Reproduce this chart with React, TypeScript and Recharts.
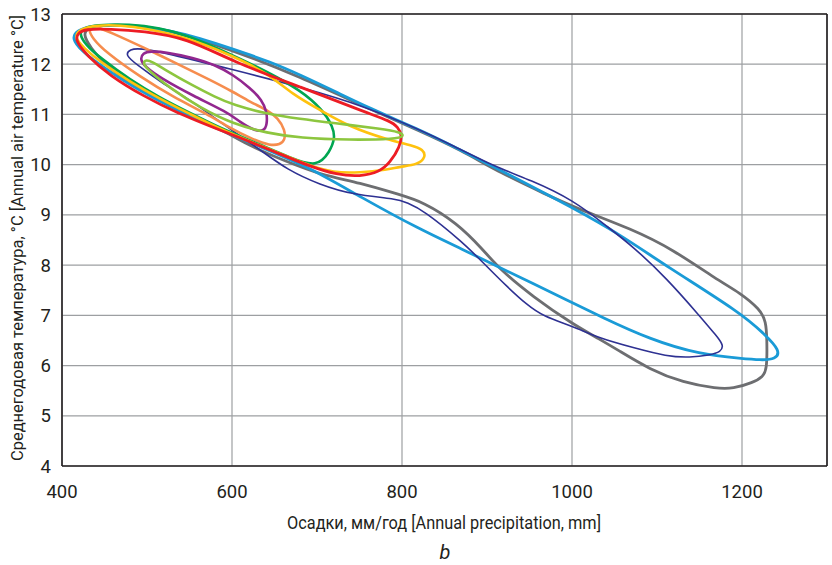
import React from "react";
import { LineChart, Line, XAxis, YAxis, CartesianGrid, ReferenceLine, Label } from "recharts";

// Axis ticks
const precipTicks = [400, 600, 800, 1000, 1200];
const tempTicks = [4, 5, 6, 7, 8, 9, 10, 11, 12, 13];

// Loops: [annual precipitation (mm), annual air temperature (°C)]
const grayLoop = [
  [424.7, 12.6], [430.6, 12.72], [444.7, 12.78], [480, 12.78], [523.5, 12.7], [601.2, 12.28], [680, 11.75],
  [758.8, 11.13], [821, 10.67], [868.2, 10.3], [915.3, 9.84], [970.6, 9.4], [1001, 9.16], [1071.8, 8.71],
  [1118.8, 8.31], [1170.6, 7.71], [1197.6, 7.45], [1221.2, 7.12], [1228.2, 6.88], [1229.4, 6.52],
  [1229.4, 5.92], [1224.7, 5.78], [1212.9, 5.66], [1189.4, 5.54], [1170.6, 5.54], [1130.6, 5.66],
  [1091.8, 5.92], [1052.9, 6.32], [1033, 6.52], [1001.2, 6.82], [954, 7.37], [915.3, 7.91], [895.3, 8.31],
  [864.7, 8.84], [824.7, 9.26], [797.6, 9.4], [750.6, 9.64], [703.5, 9.8], [664.7, 10.06], [621.2, 10.36],
  [570.6, 10.87], [530.6, 11.15], [491.8, 11.49], [452.9, 11.95], [432.9, 12.34],
];
const blueLoop = [
  [410.5, 12.52], [418.8, 12.68], [432.9, 12.76], [456.5, 12.78], [491.8, 12.76], [523.5, 12.68], [562.4, 12.52],
  [601.2, 12.3], [644.7, 12.05], [680, 11.79], [727, 11.41], [758.8, 11.15], [821, 10.69], [856.5, 10.4],
  [930.6, 9.76], [1001, 9.14], [1056.5, 8.61], [1111.8, 7.97], [1197.6, 7.06], [1227, 6.62], [1245, 6.3],
  [1240, 6.12], [1221, 6.11], [1201, 6.14], [1150.6, 6.22], [1091.8, 6.52], [1033, 6.98], [1001, 7.25],
  [915, 7.95], [871.8, 8.31], [821, 8.71], [750.6, 9.36], [691.8, 9.94], [633, 10.36], [577.6, 10.75],
  [542.4, 11.03], [507, 11.33], [471.8, 11.67], [441.2, 12.03], [424.7, 12.24],
];
const navyLoop = [
  [474.1, 12.18], [480, 12.3], [491.8, 12.32], [523.5, 12.22], [601.2, 11.89], [680, 11.55], [758.8, 11.15],
  [821, 10.69], [852.9, 10.44], [911.8, 9.94], [950.6, 9.7], [1001.2, 9.3], [1041.2, 8.77], [1071.8, 8.37],
  [1111.8, 7.73], [1150.6, 6.98], [1170.6, 6.58], [1178.5, 6.4], [1175, 6.27], [1162.4, 6.21], [1138.8, 6.16],
  [1111.8, 6.18], [1071.8, 6.36], [1033, 6.54], [1001.2, 6.78], [965.9, 6.98], [947, 7.21], [923.5, 7.57],
  [895.3, 8.05], [871.8, 8.45], [824.7, 9.1], [805.9, 9.24], [794.1, 9.32], [742.4, 9.4], [703.5, 9.6],
  [664.7, 9.9], [632.9, 10.3], [585.9, 10.85], [554.1, 11.25], [515.3, 11.65], [488.2, 11.99],
];
const orangeLoop = [
  [430.6, 12.72], [438.8, 12.76], [456.5, 12.64], [495.3, 12.34], [535.3, 12.01], [574.1, 11.69], [601.2, 11.45],
  [621.2, 11.25], [641.2, 11.09], [654.1, 10.93], [662.4, 10.69], [662.4, 10.49], [656.5, 10.4], [644.7, 10.38],
  [624.7, 10.5], [597.6, 10.73], [570.6, 11.01], [530.6, 11.35], [491.8, 11.75], [452.9, 12.22], [435.3, 12.52],
];
const greenLoop = [
  [420, 12.62], [425.9, 12.72], [438.8, 12.78], [480, 12.8], [515.3, 12.72], [547.1, 12.58], [601.2, 12.18],
  [641.2, 11.85], [680, 11.49], [707, 11.09], [718.8, 10.75], [721.2, 10.53], [715.3, 10.26], [700, 9.94],
  [668.2, 10.14], [632.9, 10.4], [585.9, 10.73], [550.6, 11.03], [515.3, 11.33], [480, 11.69], [444.7, 12.13],
  [427, 12.4],
];
const yellowLoop = [
  [414.1, 12.54], [421.2, 12.7], [438.8, 12.78], [480, 12.78], [547.1, 12.54], [601.2, 12.16], [641.2, 11.83],
  [671.8, 11.39], [703.5, 11.09], [738.8, 10.75], [782.4, 10.5], [812.9, 10.38], [824.7, 10.3], [828.2, 10.16],
  [818.8, 10.0], [797.6, 9.96], [782.4, 9.9], [750.6, 9.84], [718.8, 9.84], [691.8, 9.98], [668.2, 10.14],
  [632.9, 10.38], [585.9, 10.71], [550.6, 11.01], [515.3, 11.31], [480, 11.65], [444.7, 12.05], [425.9, 12.32],
];
const redLoop = [
  [415.3, 12.48], [418.8, 12.62], [427, 12.7], [456.5, 12.7], [495.3, 12.66], [547.1, 12.52], [601.2, 12.05],
  [680, 11.55], [758.8, 11.03], [785.9, 10.87], [795.3, 10.75], [800, 10.59], [797.6, 10.36], [785.9, 10.04],
  [774.1, 9.86], [750.6, 9.76], [723.5, 9.8], [691.8, 9.96], [644.7, 10.3], [585.9, 10.69], [535.3, 11.03],
  [495.3, 11.37], [456.5, 11.77], [429.4, 12.17],
];
const purpleLoop = [
  [491.8, 12.1], [495.3, 12.22], [503.5, 12.26], [523.5, 12.24], [554.1, 12.13], [580, 11.99], [601.2, 11.79],
  [621.2, 11.53], [635.3, 11.29], [641.2, 11.05], [641.2, 10.79], [637.6, 10.67], [627, 10.67], [609.4, 10.85],
  [594.1, 11.05], [554.1, 11.37], [515.3, 11.73], [497.6, 11.95],
];
const limeLoop = [
  [495.3, 12.03], [498.8, 12.09], [505.9, 12.05], [521.2, 11.89], [554.1, 11.57], [580, 11.35], [601.2, 11.19],
  [641.2, 11.01], [680, 10.91], [718.8, 10.83], [777.6, 10.71], [797.6, 10.65], [803, 10.57], [792.9, 10.51],
  [738.8, 10.49], [680, 10.53], [641.2, 10.63], [601.2, 10.81], [562.4, 11.13], [527, 11.53], [509.4, 11.77],
  [498.8, 11.93],
];

const series = [
  { name: "gray", color: "#6d6e71", width: 2.8, pts: grayLoop },
  { name: "blue", color: "#1a9bd7", width: 2.8, pts: blueLoop },
  { name: "navy", color: "#2e3192", width: 1.6, pts: navyLoop },
  { name: "orange", color: "#f68d4e", width: 2.6, pts: orangeLoop },
  { name: "green", color: "#00a651", width: 2.6, pts: greenLoop },
  { name: "yellow", color: "#ffc20e", width: 2.6, pts: yellowLoop },
  { name: "red", color: "#ed1c24", width: 2.8, pts: redLoop },
  { name: "purple", color: "#92278f", width: 2.6, pts: purpleLoop },
  { name: "lime", color: "#8dc63f", width: 2.6, pts: limeLoop },
];

const FONT = 'Roboto, "Noto Sans", sans-serif';
const AXIS = "#231f20";
const TEXT = "#231f20";

const XTitle = () => (
  <g>
    <text
      x={444}
      y={529}
      textAnchor="middle"
      fontFamily={FONT}
      fontSize={19}
      fill={TEXT}
      textLength={314}
      lengthAdjust="spacingAndGlyphs"
    >
      Осадки, мм/год [Annual precipitation, mm]
    </text>
    <text x={445} y={559} textAnchor="middle" fontFamily={FONT} fontSize={20} fontStyle="italic" fill={TEXT}>
      b
    </text>
  </g>
);

const YTitle = () => (
  <text
    x={17}
    y={238}
    transform="rotate(-90 17 238)"
    textAnchor="middle"
    dominantBaseline="central"
    fontFamily={FONT}
    fontSize={17}
    fill={TEXT}
    textLength={446}
    lengthAdjust="spacingAndGlyphs"
  >
    Среднегодовая температура, °С [Annual air temperature °С]
  </text>
);

export default function App() {
  return (
    <div style={{ position: "absolute", left: 0, top: 0, width: 832, height: 565, background: "#fff" }}>
      <LineChart width={832} height={565} margin={{ top: 14, right: 5, bottom: 0, left: 0 }}>
        <CartesianGrid stroke="#9d9fa2" strokeWidth={1.2} />
        <XAxis
          type="number"
          dataKey="x"
          domain={[400, 1300]}
          ticks={precipTicks}
          allowDataOverflow
          height={99}
          tickLine={false}
          tickSize={17}
          axisLine={{ stroke: AXIS, strokeWidth: 1.6 }}
          tick={{ fill: TEXT, fontSize: 18.5, fontFamily: FONT }}
        >
          <Label content={XTitle} />
        </XAxis>
        <YAxis
          type="number"
          dataKey="y"
          domain={[4, 13]}
          ticks={tempTicks}
          allowDataOverflow
          width={62}
          tickLine={false}
          tickSize={9}
          axisLine={{ stroke: AXIS, strokeWidth: 1.6 }}
          tick={{ fill: TEXT, fontSize: 18.5, fontFamily: FONT }}
        >
          <Label content={YTitle} />
        </YAxis>
        <ReferenceLine y={13} stroke={AXIS} strokeWidth={1.6} />
        <ReferenceLine x={1300} stroke={AXIS} strokeWidth={1.6} />
        {series.map((s) => (
          <Line
            key={s.name}
            data={s.pts.map(([x, y]) => ({ x, y }))}
            dataKey="y"
            type="basisClosed"
            stroke={s.color}
            strokeWidth={s.width}
            dot={false}
            activeDot={false}
            isAnimationActive={false}
          />
        ))}
      </LineChart>
    </div>
  );
}
